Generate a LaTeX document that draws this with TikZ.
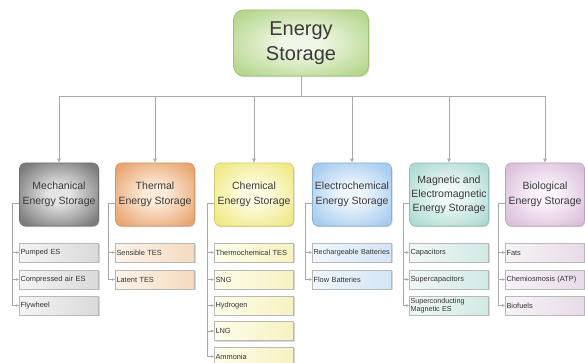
\documentclass[tikz,border=0pt]{standalone}
\usepackage{fontspec}
\setmainfont{Liberation Sans}
\usetikzlibrary{arrows.meta,shadows,calc}
\definecolor{linegray}{HTML}{A8A8A8}
\definecolor{txtcat}{HTML}{3A3A3A}
\definecolor{txtitem}{HTML}{333333}
\definecolor{itembd}{HTML}{B8B8B8}
\definecolor{topin}{HTML}{F0F7E6}
\definecolor{topout}{HTML}{B6D78E}
\definecolor{topbd}{HTML}{9CC072}
\definecolor{mechin}{HTML}{E4E4E4}
\definecolor{mechout}{HTML}{7C7C7C}
\definecolor{mechbd}{HTML}{6E6E6E}
\definecolor{thin}{HTML}{FDEBD9}
\definecolor{thout}{HTML}{E9A673}
\definecolor{thbd}{HTML}{D69464}
\definecolor{chin}{HTML}{FEFDE4}
\definecolor{chout}{HTML}{F0E986}
\definecolor{chbd}{HTML}{D2CC6C}
\definecolor{elin}{HTML}{F0F6FD}
\definecolor{elout}{HTML}{A6CCEF}
\definecolor{elbd}{HTML}{86AED6}
\definecolor{mgin}{HTML}{F0F9F7}
\definecolor{mgout}{HTML}{B0DBD5}
\definecolor{mgbd}{HTML}{8EBDB6}
\definecolor{bioin}{HTML}{FAF3FA}
\definecolor{bioout}{HTML}{DBC0DB}
\definecolor{biobd}{HTML}{BEA0BE}
\definecolor{mechA}{HTML}{F4F4F4}
\definecolor{mechB}{HTML}{DADADA}
\definecolor{thA}{HTML}{FDF3E8}
\definecolor{thB}{HTML}{F4DAC0}
\definecolor{chA}{HTML}{FEFDEA}
\definecolor{chB}{HTML}{F6F2C2}
\definecolor{elA}{HTML}{F0F6FC}
\definecolor{elB}{HTML}{D3E5F6}
\definecolor{mgA}{HTML}{F0F8F6}
\definecolor{mgB}{HTML}{D1E9E5}
\definecolor{bioA}{HTML}{F8F3F8}
\definecolor{bioB}{HTML}{E7DBE7}
\colorlet{cin}{white}
\colorlet{cout}{gray}
\pgfdeclareradialshading[cin,cout]{softrad}{\pgfpoint{0bp}{0bp}}{color(0bp)=(cin); color(7bp)=(cin); color(31bp)=(cout); color(50bp)=(cout)}
\begin{document}
\begin{tikzpicture}[x=1pt,y=-1pt,
  cshade/.style 2 args={/utils/exec={\colorlet{cin}{#1}\colorlet{cout}{#2}}, shading=softrad, shade},
  topbox/.style={rounded corners=10pt, minimum width=135pt, minimum height=66pt,
    inner sep=1pt, align=center, font=\fontsize{20}{25}\selectfont, text=txtcat,
    line width=0.7pt, draw=topbd, cshade={topin}{topout},
    drop shadow={shadow xshift=1pt,shadow yshift=-1.2pt,opacity=0.3}},
  catbox/.style={rounded corners=6pt, minimum width=79pt, minimum height=63pt,
    inner sep=1pt, align=center, font=\fontsize{10.5}{14.5}\selectfont, text=txtcat,
    line width=0.6pt, drop shadow={shadow xshift=1pt,shadow yshift=-1.2pt,opacity=0.35}},
  itembox/.style={minimum height=19pt, text width=77pt, inner xsep=1pt, inner ysep=0pt,
    align=left, font=\fontsize{7.4}{7.5}\selectfont, text=txtitem, line width=0.5pt,
    execute at begin node={\hyphenpenalty=10000\relax},
    draw=itembd, drop shadow={shadow xshift=1pt,shadow yshift=-1pt,opacity=0.3}},
  bus/.style={draw=linegray, line width=0.8pt},
  catarrow/.style={bus, -{Latex[length=4pt,width=4pt]}},
  itemarrow/.style={bus, -{Latex[length=3pt,width=3pt]}}
]
\useasboundingbox[fill=white] (0,0) rectangle (585,363);

% root
\node[topbox] (es) at (301,43) {Energy\\Storage};
\coordinate (bus) at (301,96);

% categories
\node[catbox, cshade={mechin}{mechout}, draw=mechbd] (mech) at (59,194.5) {Mechanical\\Energy Storage};
\node[catbox, cshade={thin}{thout}, draw=thbd] (therm) at (155,194.5) {Thermal\\Energy Storage};
\node[catbox, cshade={chin}{chout}, draw=chbd] (chem) at (254,194.5) {Chemical\\Energy Storage};
\node[catbox, cshade={elin}{elout}, draw=elbd] (elec) at (352,194.5) {Electrochemical\\Energy Storage};
\node[catbox, cshade={mgin}{mgout}, draw=mgbd, font=\fontsize{10.5}{14}\selectfont] (magn) at (449,194.5) {Magnetic and\\Electromagnetic\\Energy Storage};
\node[catbox, cshade={bioin}{bioout}, draw=biobd] (bio) at (545,194.5) {Biological\\Energy Storage};

\draw[bus] (es.south) -- (bus);
\draw[catarrow] (bus) -| (mech.north);
\draw[catarrow] (bus) -| (therm.north);
\draw[catarrow] (bus) -| (chem.north);
\draw[catarrow] (bus) -| (elec.north);
\draw[catarrow] (bus) -| (magn.north);
\draw[catarrow] (bus) -| (bio.north);

% items: mechanical
\node[itembox, left color=mechA, right color=mechB] (mech1) at (59,252.5) {Pumped ES};
\node[itembox, left color=mechA, right color=mechB] (mech2) at (59,279.5) {Compressed air ES};
\node[itembox, left color=mechA, right color=mechB] (mech3) at (59,305.5) {Flywheel};
% thermal
\node[itembox, left color=thA, right color=thB] (therm1) at (155,252.5) {Sensible TES};
\node[itembox, left color=thA, right color=thB] (therm2) at (155,279.5) {Latent TES};
% chemical
\node[itembox, left color=chA, right color=chB] (chem1) at (254,252.5) {Thermochemical TES};
\node[itembox, left color=chA, right color=chB] (chem2) at (254,279.5) {SNG};
\node[itembox, left color=chA, right color=chB] (chem3) at (254,305.5) {Hydrogen};
\node[itembox, left color=chA, right color=chB] (chem4) at (254,331) {LNG};
\node[itembox, left color=chA, right color=chB] (chem5) at (254,356.5) {Ammonia};
% electrochemical
\node[itembox, left color=elA, right color=elB, font=\fontsize{7.25}{7.5}\selectfont] (elec1) at (352,252.5) {Rechargeable Batteries};
\node[itembox, left color=elA, right color=elB] (elec2) at (352,279.5) {Flow Batteries};
% magnetic
\node[itembox, left color=mgA, right color=mgB] (magn1) at (449,252.5) {Capacitors};
\node[itembox, left color=mgA, right color=mgB] (magn2) at (449,279.5) {Supercapacitors};
\node[itembox, left color=mgA, right color=mgB, font=\fontsize{7.2}{7.4}\selectfont] (magn3) at (449,305.5) {Superconducting\\Magnetic ES};
% biological
\node[itembox, left color=bioA, right color=bioB] (bio1) at (545,252.5) {Fats};
\node[itembox, left color=bioA, right color=bioB] (bio2) at (545,279.5) {Chemiosmosis (ATP)};
\node[itembox, left color=bioA, right color=bioB] (bio3) at (545,305.5) {Biofuels};

% tree coordinates
\coordinate (mechT) at (12.5,203);
\coordinate (thermT) at (108.5,203);
\coordinate (chemT) at (207.5,203);
\coordinate (elecT) at (305.5,203);
\coordinate (magnT) at (403.5,203);
\coordinate (bioT) at (498.5,203);

\draw[bus] (mech.west |- mechT) -- (mechT);
\draw[itemarrow] (mechT) |- (mech1.west);
\draw[itemarrow] (mechT) |- (mech2.west);
\draw[itemarrow] (mechT) |- (mech3.west);

\draw[bus] (therm.west |- thermT) -- (thermT);
\draw[itemarrow] (thermT) |- (therm1.west);
\draw[itemarrow] (thermT) |- (therm2.west);

\draw[bus] (chem.west |- chemT) -- (chemT);
\draw[itemarrow] (chemT) |- (chem1.west);
\draw[itemarrow] (chemT) |- (chem2.west);
\draw[itemarrow] (chemT) |- (chem3.west);
\draw[itemarrow] (chemT) |- (chem4.west);
\draw[itemarrow] (chemT) |- (chem5.west);

\draw[bus] (elec.west |- elecT) -- (elecT);
\draw[itemarrow] (elecT) |- (elec1.west);
\draw[itemarrow] (elecT) |- (elec2.west);

\draw[bus] (magn.west |- magnT) -- (magnT);
\draw[itemarrow] (magnT) |- (magn1.west);
\draw[itemarrow] (magnT) |- (magn2.west);
\draw[itemarrow] (magnT) |- (magn3.west);

\draw[bus] (bio.west |- bioT) -- (bioT);
\draw[itemarrow] (bioT) |- (bio1.west);
\draw[itemarrow] (bioT) |- (bio2.west);
\draw[itemarrow] (bioT) |- (bio3.west);
\end{tikzpicture}
\end{document}
